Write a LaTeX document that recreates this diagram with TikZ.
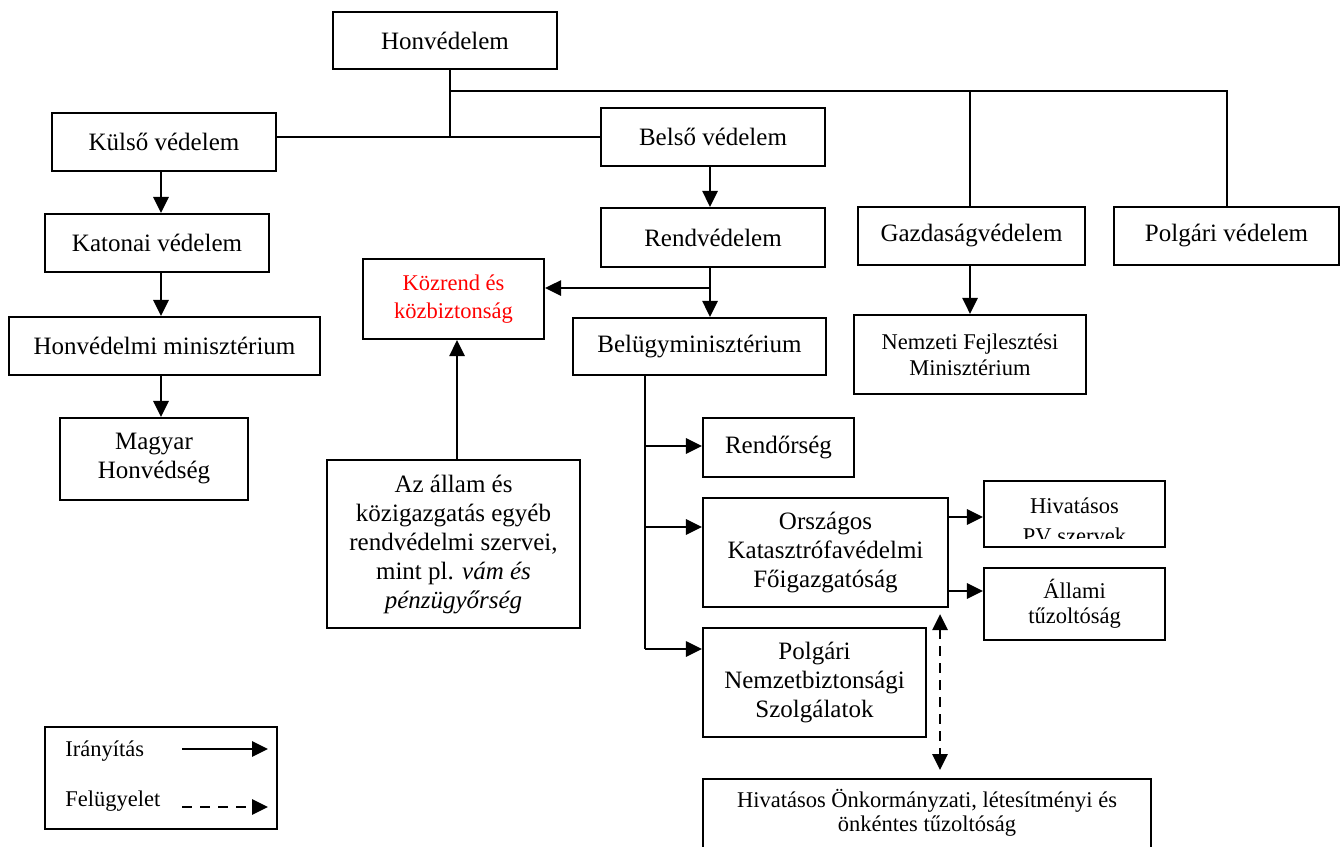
\documentclass[tikz,border=0pt]{standalone}
\usepackage{fontspec}
\setmainfont{Liberation Serif}
\usetikzlibrary{arrows.meta}
\newcommand{\fbig}{\fontsize{12.5}{14.5}\selectfont}
\newcommand{\fsmall}{\fontsize{11.25}{13}\selectfont}
\begin{document}
\begin{tikzpicture}[x=0.5pt,y=-0.5pt,
  box/.style={draw, line width=1.05pt, inner sep=0pt, align=center, font=\fbig},
  sbox/.style={box, font=\fsmall},
  tree/.style={line width=1pt},
  trunk/.style={line width=1.4pt},
  arr/.style={line width=1.4pt, -{Triangle[length=8pt,width=7.5pt]}},
  darr/.style={line width=1.4pt, dash pattern=on 5pt off 3.5pt, {Triangle[length=8pt,width=7.5pt]}-{Triangle[length=8pt,width=7.5pt]}},
  ldarr/.style={line width=1.4pt, dash pattern=on 5pt off 4pt, -{Triangle[length=8pt,width=7.5pt]}},
  lbl/.style={inner sep=0pt, font=\fsmall}
]
\useasboundingbox (0,0) rectangle (1342,846);
\clip (0,0) rectangle (1342,846);

% ---- boxes ----
\node[box, minimum width=112pt, minimum height=28.5pt] (honv) at (445,40.5) {Honvédelem};
\node[box, minimum width=112pt, minimum height=29pt] (kulso) at (164,142) {Külső védelem};
\node[box, minimum width=112pt, minimum height=29pt] (belso) at (713,137) {Belső védelem};
\node[box, minimum width=112pt, minimum height=29.5pt] (rend) at (713,237.5) {Rendvédelem};
\node[box, minimum width=113.5pt, minimum height=29pt] (gazd) at (971.5,236) {Gazdaságvédelem};
\node[box, minimum width=112.5pt, minimum height=29pt] (polg) at (1226.5,236) {Polgári védelem};
\node[sbox, minimum width=116pt, minimum height=39.5pt] (nfm) at (970,354.5) {Nemzeti Fejlesztési\\Minisztérium};
\node[box, minimum width=112pt, minimum height=29pt] (katonai) at (157,243) {Katonai védelem};
\node[box, minimum width=155.5pt, minimum height=29pt] (honvmin) at (164.5,346) {Honvédelmi minisztérium};
\node[box, minimum width=94pt, minimum height=41pt] (magyar) at (154,459) {Magyar\\Honvédség};
\node[sbox, text=red, minimum width=90.5pt, minimum height=40pt, font=\fontsize{11.25}{14}\selectfont] (kozrend) at (453.5,299) {Közrend és\\közbiztonság};
\node[box, minimum width=126.5pt, minimum height=28.5pt] (belugy) at (699.5,346.5) {Belügyminisztérium};
\node[box, minimum width=75.5pt, minimum height=29.5pt] (rendor) at (778.5,447.5) {Rendőrség};
\node[box, minimum width=122.5pt, minimum height=54.5pt] (orsz) at (825.5,552.5) {Országos\\Katasztrófavédelmi\\Főigazgatóság};
\node[box, minimum width=111.5pt, minimum height=54.5pt] (pnsz) at (814.5,682.5) {Polgári\\Nemzetbiztonsági\\Szolgálatok};
\node[box, minimum width=90.5pt, minimum height=33pt] (hiv) at (1074.5,514) {};
\node[sbox, minimum width=90.5pt, minimum height=36pt, font=\fontsize{11.25}{12.5}\selectfont] (allami) at (1074.5,604) {Állami\\tűzoltóság};
\node[box, minimum width=224pt, minimum height=50pt, anchor=north] (bot) at (927,778) {};
\node[box, minimum width=126.5pt, minimum height=84pt] (allam) at (453.5,544) {Az állam és\\közigazgatás egyéb\\rendvédelmi szervei,\\mint pl. \textit{vám és}\\\textit{pénzügyőrség}};
\node[box, minimum width=116pt, minimum height=51pt] (legend) at (161,778) {};

% ---- texts placed separately ----
\node[lbl, anchor=base] (hiva) at (1074.5,513) {Hivatásos};
\begin{scope}
  \clip (984,481) rectangle (1165,538);
  \node[lbl, anchor=base] (hivb) at (1074.5,543) {PV szervek};
\end{scope}
\node[lbl, align=center, font=\fontsize{11.25}{12}\selectfont] (botlabel) at (927,813) {Hivatásos Önkormányzati, létesítményi és\\önkéntes tűzoltóság};
\node[lbl, anchor=west] (legi) at (65,751) {Irányítás};
\node[lbl, anchor=west] (legf) at (65,801) {Felügyelet};

% ---- helper coordinates ----
\coordinate (bus) at (450,91);
\coordinate (lx) at (161,0);
\coordinate (mx) at (710,0);
\coordinate (rk) at (710,288);
\coordinate (ax) at (457,0);
\coordinate (br1) at (645,446);
\coordinate (br2) at (645,527);
\coordinate (br3) at (645,649);
\coordinate (oh) at (0,517);
\coordinate (oa) at (0,591);
\coordinate (dx) at (940,0);
\coordinate (la1) at (182,749);
\coordinate (la2) at (268,749);
\coordinate (lb1) at (182,807);
\coordinate (lb2) at (268,807);

% ---- tree lines ----
\draw[tree] (honv.south -| bus) -- (belso.west -| bus);
\draw[tree] (kulso.east |- belso.west) -- (belso.west);
\draw[tree] (bus) -| (polg.north);
\draw[tree] (bus -| nfm.north) -- (gazd.north -| nfm.north);

% ---- arrows ----
\draw[arr] (kulso.south -| lx) -- (katonai.north -| lx);
\draw[arr] (katonai.south -| lx) -- (honvmin.north -| lx);
\draw[arr] (honvmin.south -| lx) -- (magyar.north -| lx);
\draw[arr] (belso.south -| mx) -- (rend.north -| mx);
\draw[arr] (rend.south -| mx) -- (belugy.north -| mx);
\draw[arr] (rk) -- (rk -| kozrend.east);
\draw[arr] (gazd.south -| nfm.north) -- (nfm.north);
\draw[arr] (allam.north -| ax) -- (kozrend.south -| ax);
\draw[trunk] (belugy.south -| br1) -- (br3);
\draw[arr] (br1) -- (br1 -| rendor.west);
\draw[arr] (br2) -- (br2 -| orsz.west);
\draw[arr] (br3) -- (br3 -| pnsz.west);
\draw[arr] (orsz.east |- oh) -- (hiv.west |- oh);
\draw[arr] (orsz.east |- oa) -- (allami.west |- oa);
\draw[darr, shorten <=3pt, shorten >=4pt] (orsz.south -| dx) -- (bot.north -| dx);

% ---- legend arrows ----
\draw[arr] (la1) -- (la2);
\draw[ldarr] (lb1) -- (lb2);
\end{tikzpicture}
\end{document}
